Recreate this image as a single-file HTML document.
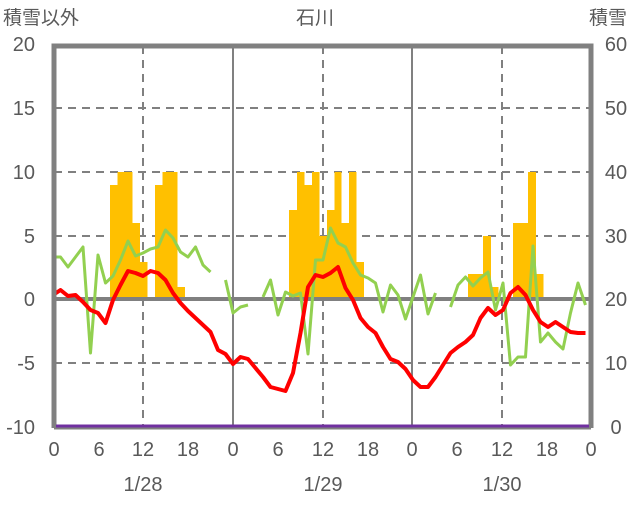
<!DOCTYPE html>
<html><head><meta charset="utf-8"><style>
html,body{margin:0;padding:0;background:#fff}
text{font-family:"Liberation Sans","Noto Sans CJK JP",sans-serif;fill:#595959;font-size:20px}
</style></head><body>
<svg width="636" height="501" viewBox="0 0 636 501" xmlns="http://www.w3.org/2000/svg">
<rect width="636" height="501" fill="#fff"/>
<!-- grid -->
<g stroke="#808080" stroke-width="2" stroke-dasharray="8,6">
<line x1="54" y1="108" x2="591" y2="108"/>
<line x1="54" y1="172" x2="591" y2="172"/>
<line x1="54" y1="236" x2="591" y2="236"/>
<line x1="54" y1="363" x2="591" y2="363"/>
<line x1="143" y1="46" x2="143" y2="426"/>
<line x1="323" y1="46" x2="323" y2="426"/>
<line x1="502" y1="46" x2="502" y2="426"/>
</g>
<g stroke="#808080" stroke-width="2">
<line x1="233" y1="46" x2="233" y2="426"/>
<line x1="412" y1="46" x2="412" y2="426"/>
</g>
<!-- bars -->
<g fill="#FFC000">
<rect x="110" y="185" width="7.5" height="114"/><rect x="117.5" y="172" width="15" height="127"/>
<rect x="132.5" y="223" width="7.5" height="76"/><rect x="140" y="262" width="7.5" height="37"/>
<rect x="155" y="185" width="7.5" height="114"/><rect x="162.5" y="172" width="15" height="127"/>
<rect x="177.5" y="287" width="7.5" height="12"/>
<rect x="289" y="210" width="8" height="89"/><rect x="297" y="172" width="7.5" height="127"/>
<rect x="304.5" y="185" width="7.5" height="114"/><rect x="312" y="172" width="7.5" height="127"/>
<rect x="319.5" y="236" width="7.5" height="63"/><rect x="327" y="210" width="7.5" height="89"/>
<rect x="334.5" y="172" width="7" height="127"/><rect x="341.5" y="223" width="7.5" height="76"/>
<rect x="349" y="172" width="7.5" height="127"/><rect x="356.5" y="262" width="7.5" height="37"/>
<rect x="468" y="274" width="15" height="25"/><rect x="483" y="236" width="8" height="63"/>
<rect x="491" y="287" width="7.5" height="12"/>
<rect x="513" y="223" width="15" height="76"/><rect x="528" y="172" width="8" height="127"/>
<rect x="536" y="274" width="7.5" height="25"/>
</g>
<line x1="54" y1="299" x2="591" y2="299" stroke="#808080" stroke-width="4"/>
<!-- green -->
<g fill="none" stroke="#92D050" stroke-width="3" stroke-linejoin="round">
<polyline points="53,257 60.5,257 68,267 75.5,257 83,247 90.5,353 98,255 105.5,283 113,276 120.5,260 128,241 135.5,256 143,253 150.5,249 158,247 165.5,230 173,238 180.5,252 188,257 195.5,247 203,265 210.5,272"/>
<polyline points="225.5,280 233,313 240.5,307 248,305"/>
<polyline points="263,297 270.5,280 278,315 285.5,292 293,296 300.5,293 308,354 315.5,260 323,260 330.5,228 338,243 345.5,247 353,263 360.5,275 368,278 375.5,283 383,312 390.5,285 398,295 405.5,319 413,297 420.5,275 428,314 435.5,293"/>
<polyline points="450.5,307 458,285 465.5,277 473,286 480.5,278 488,272 495.5,310 503,283 510.5,365 518,357 525.5,357 533,246 540.5,342 548,333 555.5,342 563,349 570.5,313 578,283 585.5,305"/>
</g>
<!-- red -->
<polyline fill="none" stroke="#FF0000" stroke-width="4" stroke-linejoin="round" points="53,295 60.5,290 68,296 75.5,295 83,302 90.5,310 98,313 105.5,323 113,300 120.5,285 128,271 135.5,273 143,276 150.5,271 158,273 165.5,280 173,293 180.5,303 188,311 195.5,318 203,325 210.5,332 218,350 225.5,354 233,364 240.5,357 248,359 255.5,368 263,377 270.5,387 278,389 285.5,391 293,373 300.5,333 308,287 315.5,275 323,277 330.5,273 338,267 345.5,288 353,300 360.5,318 368,327 375.5,333 383,347 390.5,359 398,362 405.5,369 413,380 420.5,387 428,387 435.5,377 443,365 450.5,353 458,347 465.5,342 473,335 480.5,318 488,308 495.5,315 503,310 510.5,293 518,287 525.5,295 533,310 540.5,322 548,327 555.5,322 563,327 570.5,332 578,333 585.5,333"/>
<!-- frame -->
<path d="M54,428 V46 H591 V428" fill="none" stroke="#808080" stroke-width="5"/>
<line x1="54" y1="428" x2="591" y2="428" stroke="#808080" stroke-width="3"/>
<line x1="56" y1="426" x2="589" y2="426" stroke="#7030A0" stroke-width="3"/>
<!-- labels -->
<text x="3" y="24" style="font-size:19px">積雪以外</text>
<text x="296" y="24" style="font-size:19px">石川</text>
<text x="589" y="24" style="font-size:19px">積雪</text>
<g text-anchor="end">
<text x="35" y="51">20</text><text x="35" y="115">15</text><text x="35" y="179">10</text>
<text x="35" y="243">5</text><text x="35" y="306">0</text><text x="35" y="370">-5</text><text x="35" y="434">-10</text>
</g>
<g text-anchor="middle">
<text x="616" y="51">60</text><text x="616" y="115">50</text><text x="616" y="179">40</text>
<text x="616" y="243">30</text><text x="616" y="306">20</text><text x="616" y="370">10</text><text x="616" y="434">0</text>
<text x="54" y="456">0</text><text x="99" y="456">6</text><text x="143" y="456">12</text><text x="188" y="456">18</text>
<text x="233" y="456">0</text><text x="278" y="456">6</text><text x="323" y="456">12</text><text x="368" y="456">18</text>
<text x="412" y="456">0</text><text x="457" y="456">6</text><text x="502" y="456">12</text><text x="547" y="456">18</text>
<text x="591" y="456">0</text>
<text x="143" y="491">1/28</text><text x="323" y="491">1/29</text><text x="502" y="491">1/30</text>
</g>
</svg>
</body></html>
